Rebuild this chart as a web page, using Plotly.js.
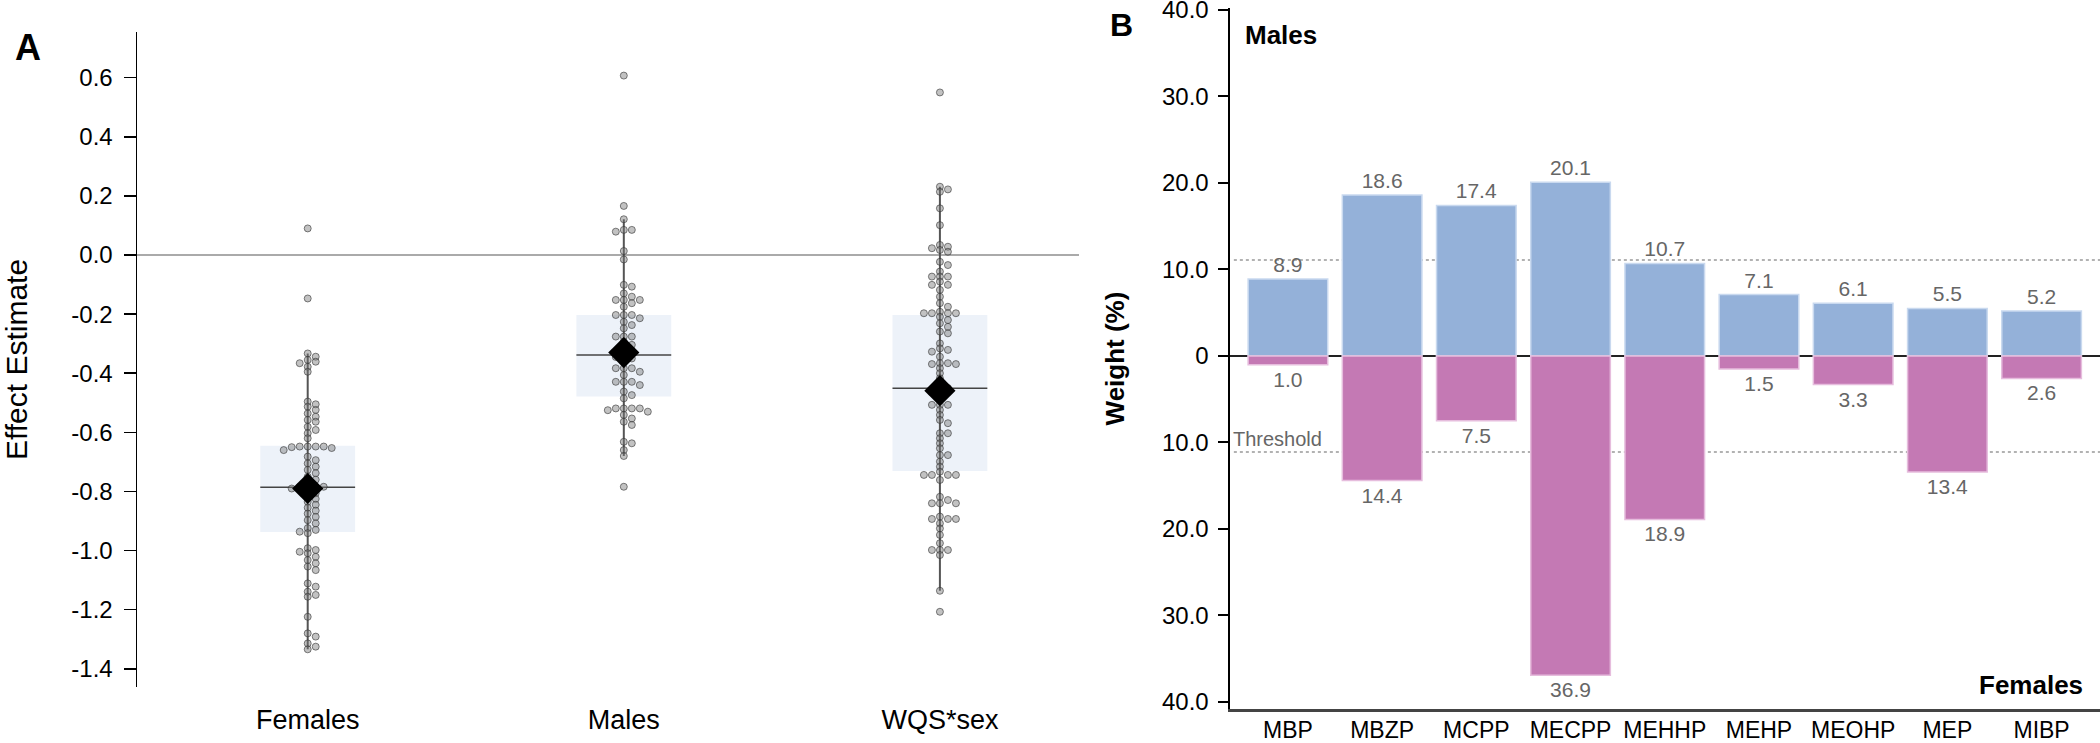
<!DOCTYPE html>
<html>
<head>
<meta charset="utf-8">
<script src="https://cdn.plot.ly/plotly-3.0.1.min.js"></script>
<style>
  html, body { margin: 0; padding: 0; background: #fff; }
  #chart { width: 2100px; height: 743px; }
</style>
</head>
<body>
<div id="chart"></div>
<script>
// Panel A: effect estimates by group
var groups = ['Females', 'Males', 'WQS*sex'];

var femalesEst = [0.09, -0.147, -0.333, -0.344, -0.355, -0.361, -0.366, -0.378, -0.395,
  -0.496, -0.505, -0.513, -0.524, -0.536, -0.547, -0.558, -0.564, -0.581, -0.592, -0.603,
  -0.620, -0.648, -0.648, -0.648, -0.648, -0.650, -0.653, -0.660,
  -0.682, -0.694, -0.705, -0.716, -0.727, -0.738, -0.750, -0.760,
  -0.775, -0.784, -0.784, -0.784, -0.790, -0.795,
  -0.806, -0.815, -0.825, -0.835, -0.845, -0.855, -0.865, -0.875, -0.886, -0.897, -0.908,
  -0.924, -0.930, -0.936, -0.941,
  -0.992, -0.998, -1.004, -1.009, -1.021, -1.032, -1.043, -1.054, -1.066,
  -1.111, -1.122, -1.139, -1.150, -1.156,
  -1.224, -1.280, -1.291, -1.314, -1.325, -1.334];

var malesEst = [0.607, 0.166, 0.121, 0.085, 0.085, 0.079, 0.0135, -0.015,
  -0.101, -0.107, -0.130, -0.141, -0.152, -0.152, -0.152, -0.163, -0.175,
  -0.203, -0.203, -0.203, -0.214, -0.226, -0.237, -0.248,
  -0.276, -0.276, -0.276, -0.293, -0.304, -0.321, -0.330, -0.338, -0.345, -0.350,
  -0.383, -0.383, -0.383, -0.395, -0.406, -0.429, -0.429, -0.429, -0.440,
  -0.462, -0.474, -0.485,
  -0.519, -0.519, -0.519, -0.519, -0.525, -0.530, -0.541, -0.553, -0.564, -0.575,
  -0.632, -0.637, -0.660, -0.680, -0.784];

var wqsEst = [0.550, 0.231, 0.222, 0.214, 0.158, 0.101, 0.034, 0.028, 0.023, 0.017, 0.011,
  -0.023, -0.034, -0.056, -0.073, -0.073, -0.073, -0.090, -0.101, -0.101, -0.118, -0.141, -0.163, -0.175,
  -0.192, -0.197, -0.197, -0.197, -0.197, -0.209, -0.220, -0.231, -0.243, -0.259, -0.265,
  -0.299, -0.316, -0.321, -0.327, -0.344, -0.366, -0.366, -0.369, -0.369,
  -0.383, -0.400, -0.417, -0.440, -0.450, -0.459, -0.465,
  -0.507, -0.507, -0.507, -0.524, -0.541, -0.558, -0.569, -0.603, -0.603, -0.620, -0.637, -0.654,
  -0.677, -0.677, -0.699, -0.716,
  -0.733, -0.744, -0.744, -0.744, -0.744, -0.761,
  -0.818, -0.829, -0.840, -0.840, -0.840,
  -0.885, -0.893, -0.893, -0.893, -0.908, -0.925, -0.947,
  -0.975, -0.998, -0.998, -0.998, -1.015, -1.136, -1.207];

var boxLow = [-0.937, -0.479, -0.731];
var boxHigh = [-0.645, -0.203, -0.203];
var medians = [-0.786, -0.338, -0.451];
var means = [-0.790, -0.330, -0.459];
var whiskerLow = [-1.334, -0.680, -1.136];
var whiskerHigh = [-0.333, 0.121, 0.231];

var yTicksA = [0.6, 0.4, 0.2, 0.0, -0.2, -0.4, -0.6, -0.8, -1.0, -1.2, -1.4];

// Panel B: component weights
var components = ['MBP', 'MBZP', 'MCPP', 'MECPP', 'MEHHP', 'MEHP', 'MEOHP', 'MEP', 'MIBP'];
var malesWeight = [8.9, 18.6, 17.4, 20.1, 10.7, 7.1, 6.1, 5.5, 5.2];
var femalesWeight = [1.0, 14.4, 7.5, 36.9, 18.9, 1.5, 3.3, 13.4, 2.6];
var threshold = 100 / 9;
var yTicksB = [40, 30, 20, 10, 0, -10, -20, -30, -40];

var FONT = 'Liberation Sans, Arial, sans-serif';
var BOXW = 0.3;

// simple beeswarm: points only move sideways when they nearly coincide
function swarm(vals, center) {
  var pxX = 316, pxY = 295.6, step = 8, minDist = 4.5;
  var order = vals.map(function (v, i) { return i; }).sort(function (a, b) { return vals[b] - vals[a]; });
  var placed = [];
  var xs = new Array(vals.length);
  order.forEach(function (i) {
    var y = vals[i] * pxY;
    for (var k = 0; k < 40; k++) {
      var off = (k === 0) ? 0 : (k % 2 ? 1 : -1) * Math.ceil(k / 2) * step;
      var ok = placed.every(function (p) {
        var dx = p[0] - off, dy = p[1] - y;
        return dx * dx + dy * dy >= minDist * minDist;
      });
      if (ok) { placed.push([off, y]); xs[i] = center + off / pxX; break; }
    }
  });
  return xs;
}

var allEst = [femalesEst, malesEst, wqsEst];
var traces = [];

// interval boxes
traces.push({
  type: 'bar', x: [0, 1, 2],
  base: boxLow,
  y: boxHigh.map(function (h, i) { return h - boxLow[i]; }),
  width: BOXW, marker: { color: '#edf2f9', line: { width: 0 } },
  xaxis: 'x', yaxis: 'y', hoverinfo: 'skip', showlegend: false
});

// whiskers
var wx = [], wy = [];
groups.forEach(function (g, i) { wx.push(i, i, null); wy.push(whiskerLow[i], whiskerHigh[i], null); });
traces.push({ type: 'scatter', mode: 'lines', x: wx, y: wy, line: { color: '#555', width: 2 },
  xaxis: 'x', yaxis: 'y', showlegend: false, hoverinfo: 'skip' });

// median lines
var mx = [], my = [];
groups.forEach(function (g, i) { mx.push(i - BOXW / 2, i + BOXW / 2, null); my.push(medians[i], medians[i], null); });
traces.push({ type: 'scatter', mode: 'lines', x: mx, y: my, line: { color: '#444', width: 1.5 },
  xaxis: 'x', yaxis: 'y', showlegend: false, hoverinfo: 'skip' });

// points
allEst.forEach(function (vals, i) {
  traces.push({
    type: 'scatter', mode: 'markers', x: swarm(vals, i), y: vals,
    marker: { size: 7, color: 'rgba(120,120,120,0.45)', line: { color: 'rgba(50,50,50,0.6)', width: 1 } },
    xaxis: 'x', yaxis: 'y', showlegend: false
  });
});

// means
traces.push({
  type: 'scatter', mode: 'markers', x: [0, 1, 2], y: means,
  marker: { symbol: 'diamond', size: 24, color: '#000' },
  xaxis: 'x', yaxis: 'y', showlegend: false
});

// panel B bars
traces.push({
  type: 'bar', x: components, y: malesWeight, width: 0.845,
  marker: { color: '#94b1d9', line: { color: '#c9d9ef', width: 1.5 } },
  text: malesWeight.map(function (v) { return v.toFixed(1); }),
  textposition: 'outside', textfont: { size: 21, color: '#666', family: FONT },
  cliponaxis: false, xaxis: 'x2', yaxis: 'y2', showlegend: false
});
traces.push({
  type: 'bar', x: components, y: femalesWeight.map(function (v) { return -v; }), width: 0.845,
  marker: { color: '#c479b4', line: { color: '#e6bddd', width: 1.5 } },
  text: femalesWeight.map(function (v) { return v.toFixed(1); }),
  textposition: 'outside', textfont: { size: 21, color: '#666', family: FONT },
  cliponaxis: false, xaxis: 'x2', yaxis: 'y2', showlegend: false
});

var layout = {
  width: 2100, height: 743,
  margin: { l: 0, r: 0, t: 0, b: 0 },
  paper_bgcolor: '#fff', plot_bgcolor: 'rgba(0,0,0,0)',
  font: { family: FONT, color: '#000' },
  barmode: 'overlay',
  showlegend: false,
  xaxis: {
    domain: [0.06524, 0.51381], range: [-0.54, 2.44],
    tickvals: [0, 1, 2], ticktext: groups,
    showline: false, ticks: '', showgrid: false, zeroline: false,
    tickfont: { size: 27 }, ticklabelstandoff: 14
  },
  yaxis: {
    domain: [0.0754, 0.9569], range: [-1.4614, 0.7544],
    tickvals: yTicksA, ticktext: yTicksA.map(function (v) { return v.toFixed(1); }),
    showline: true, linecolor: '#000', linewidth: 1.5,
    ticks: 'outside', ticklen: 12, tickwidth: 1.5, tickcolor: '#000',
    tickfont: { size: 24 }, ticklabelstandoff: 6,
    showgrid: false, zeroline: true, zerolinecolor: '#aaa', zerolinewidth: 1.5,
    title: { text: 'Effect Estimate', font: { size: 30 }, standoff: 38 }
  },
  xaxis2: {
    anchor: 'y2', domain: [0.58548, 1], range: [-0.62, 8.62],
    showline: true, linecolor: '#444', linewidth: 3, ticks: '',
    showgrid: false, zeroline: false, tickfont: { size: 23 }, ticklabelstandoff: -2
  },
  yaxis2: {
    anchor: 'x2', domain: [0.04576, 0.98923], range: [-40.81, 40.23],
    tickvals: yTicksB, ticktext: yTicksB.map(function (v) { return v === 0 ? '0' : Math.abs(v).toFixed(1); }),
    showline: true, linecolor: '#000', linewidth: 2,
    ticks: 'outside', ticklen: 10, tickwidth: 2, tickcolor: '#000',
    tickfont: { size: 24 }, ticklabelstandoff: 4, ticklabeloverflow: 'allow',
    showgrid: false, zeroline: true, zerolinecolor: '#222', zerolinewidth: 2,
    title: { text: '<b>Weight (%)</b>', font: { size: 26 }, standoff: 30 }
  },
  shapes: [threshold, -threshold].map(function (t) {
    return { type: 'line', xref: 'x2 domain', yref: 'y2', x0: 0.005, x1: 1, y0: t, y1: t,
      line: { color: '#999', width: 1.5, dash: 'dot' }, layer: 'below' };
  }),
  annotations: [
    { text: '<b>A</b>', xref: 'paper', yref: 'paper', x: 28 / 2100, y: 1 - 47 / 743,
      showarrow: false, font: { size: 36 }, xanchor: 'center', yanchor: 'middle' },
    { text: '<b>B</b>', xref: 'paper', yref: 'paper', x: 1121 / 2100, y: 1 - 25 / 743,
      showarrow: false, font: { size: 32 }, xanchor: 'center', yanchor: 'middle' },
    { text: '<b>Males</b>', xref: 'x2 domain', yref: 'y2', x: 0.016, y: 37.1,
      showarrow: false, font: { size: 26 }, xanchor: 'left', yanchor: 'middle' },
    { text: '<b>Females</b>', xref: 'x2 domain', yref: 'y2', x: 0.983, y: -38.0,
      showarrow: false, font: { size: 26 }, xanchor: 'right', yanchor: 'middle' },
    { text: 'Threshold', xref: 'x2 domain', yref: 'y2', x: 0.002, y: -9.6,
      showarrow: false, font: { size: 20, color: '#666' }, xanchor: 'left', yanchor: 'middle' }
  ]
};

Plotly.newPlot('chart', traces, layout, { displayModeBar: false, staticPlot: true });
</script>
</body>
</html>
